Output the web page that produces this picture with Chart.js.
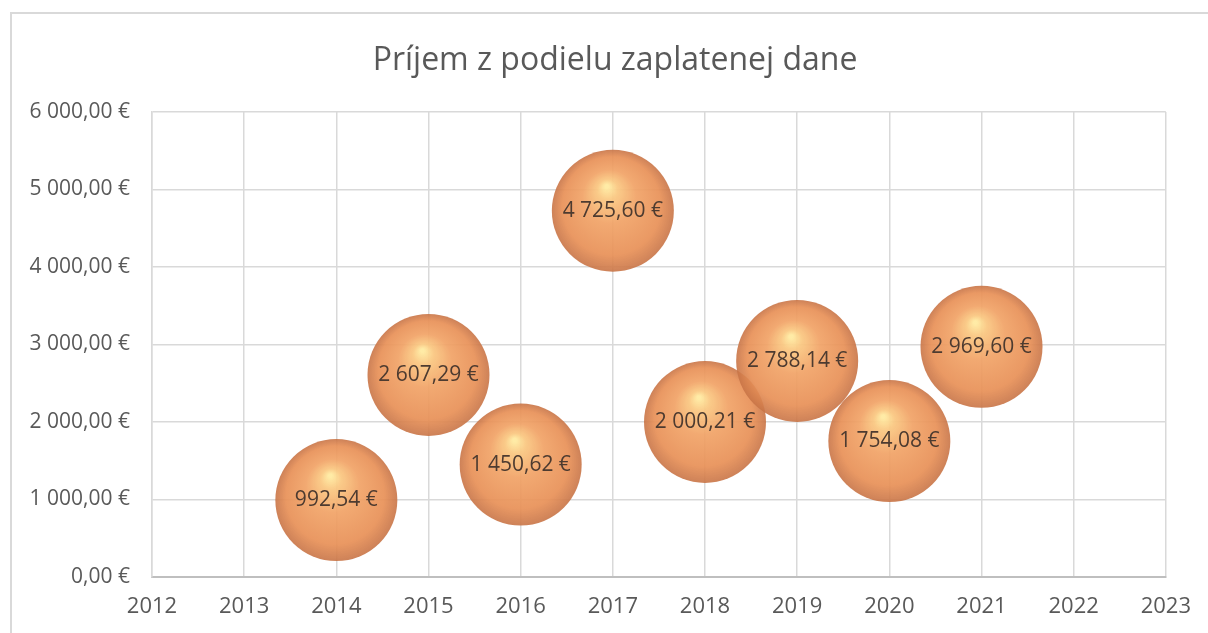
<!DOCTYPE html>
<html>
<head>
<meta charset="utf-8">
<script src="https://cdn.jsdelivr.net/npm/chart.js@4.4.1/dist/chart.umd.min.js"></script>
<style>
    html, body { margin: 0; padding: 0; background: #ffffff; }
    #wrap { position: relative; width: 1208px; height: 633px; overflow: hidden; }
    #frame {
        position: absolute; left: 10px; top: 12px; width: 1210px; height: 640px;
        border: 2px solid #d9d9d9; box-sizing: border-box;
    }
    #bubbleChart { position: absolute; left: 0; top: 0; }
</style>
</head>
<body>
<div id="wrap">
    <div id="frame"></div>
    <canvas id="bubbleChart" width="1208" height="633"></canvas>
</div>
<script>
// Príjem z podielu zaplatenej dane
const years = [2014, 2015, 2016, 2017, 2018, 2019, 2020, 2021];
const income = [992.54, 2607.29, 1450.62, 4725.60, 2000.21, 2788.14, 1754.08, 2969.60];
const chartTitle = 'Príjem z podielu zaplatenej dane';

const xMin = 2012, xMax = 2023;
const yMin = 0, yMax = 6000, yStep = 1000;

const FONT = '"Open Sans", "Noto Sans", sans-serif';
const TEXT_COLOR = '#595959';
const FALLBACK_FILL = 'rgba(240, 160, 100, 0.92)';
const BUBBLE_R = 61;

// 6 000,00 € style formatting
function formatEur(value) {
    const parts = Number(value).toFixed(2).split('.');
    const whole = parts[0].replace(/\B(?=(\d{3})+(?!\d))/g, ' ');
    return whole + ',' + parts[1] + ' €';
}

// 3D sphere look - radial gradient built around each bubble
function sphereFill(context) {
    const chart = context.chart;
    const raw = context.raw;
    if (!raw || !chart.scales || !chart.scales.x || !chart.scales.y) {
        return FALLBACK_FILL;
    }
    const cx = chart.scales.x.getPixelForValue(raw.x);
    const cy = chart.scales.y.getPixelForValue(raw.y);
    if (!isFinite(cx) || !isFinite(cy)) {
        return FALLBACK_FILL;
    }
    const r = BUBBLE_R;
    const g = chart.ctx.createRadialGradient(cx - r * 0.1, cy - r * 0.4, r * 0.03, cx, cy, r);
    g.addColorStop(0, 'rgba(255, 234, 162, 0.96)');
    g.addColorStop(0.14, 'rgba(250, 200, 130, 0.94)');
    g.addColorStop(0.42, 'rgba(241, 163, 103, 0.93)');
    g.addColorStop(0.8, 'rgba(232, 145, 88, 0.93)');
    g.addColorStop(1, 'rgba(200, 116, 70, 0.9)');
    return g;
}

// Title drawn centred on the outer frame, not on the canvas
const frameTitle = {
    id: 'frameTitle',
    afterDraw(chart) {
        const ctx = chart.ctx;
        ctx.save();
        ctx.font = '32px ' + FONT;
        ctx.fillStyle = TEXT_COLOR;
        ctx.textAlign = 'center';
        ctx.textBaseline = 'middle';
        ctx.fillText(chartTitle, 615, 61);
        ctx.restore();
    }
};

// Data labels drawn inside the bubbles
const bubbleLabels = {
    id: 'bubbleLabels',
    afterDatasetsDraw(chart) {
        const ctx = chart.ctx;
        const meta = chart.getDatasetMeta(0);
        ctx.save();
        ctx.font = '21px ' + FONT;
        ctx.fillStyle = '#4d3b30';
        ctx.textAlign = 'center';
        ctx.textBaseline = 'middle';
        meta.data.forEach((el, i) => {
            ctx.fillText(formatEur(income[i]), el.x, el.y);
        });
        ctx.restore();
    }
};

const points = years.map((yr, i) => ({ x: yr, y: income[i] }));

new Chart(document.getElementById('bubbleChart'), {
    type: 'bubble',
    data: {
        datasets: [{
            label: chartTitle,
            data: points,
            radius: BUBBLE_R,
            backgroundColor: sphereFill,
            borderWidth: 0,
            hoverRadius: 0,
            clip: false
        }]
    },
    options: {
        responsive: false,
        animation: false,
        events: [],
        layout: {
            autoPadding: false,
            padding: { left: 0, right: 34, top: 112, bottom: 0 }
        },
        scales: {
            x: {
                type: 'linear',
                min: xMin,
                max: xMax,
                afterFit: scale => { scale.height = 56; },
                ticks: {
                    stepSize: 1,
                    padding: 17,
                    color: TEXT_COLOR,
                    font: { family: FONT, size: 22 },
                    callback: v => String(v)
                },
                grid: { color: '#d9d9d9', lineWidth: 1.5, drawTicks: false },
                border: { color: '#bfbfbf', width: 2 }
            },
            y: {
                min: yMin,
                max: yMax,
                afterFit: scale => { scale.width = 152; },
                ticks: {
                    stepSize: yStep,
                    padding: 22,
                    color: TEXT_COLOR,
                    font: { family: FONT, size: 21 },
                    callback: v => formatEur(v)
                },
                grid: { color: '#d9d9d9', lineWidth: 1.5, drawTicks: false },
                border: { color: '#d9d9d9', width: 1.5 }
            }
        },
        plugins: {
            legend: { display: false },
            tooltip: { enabled: false },
            title: { display: false }
        }
    },
    plugins: [bubbleLabels, frameTitle]
});
</script>
</body>
</html>
